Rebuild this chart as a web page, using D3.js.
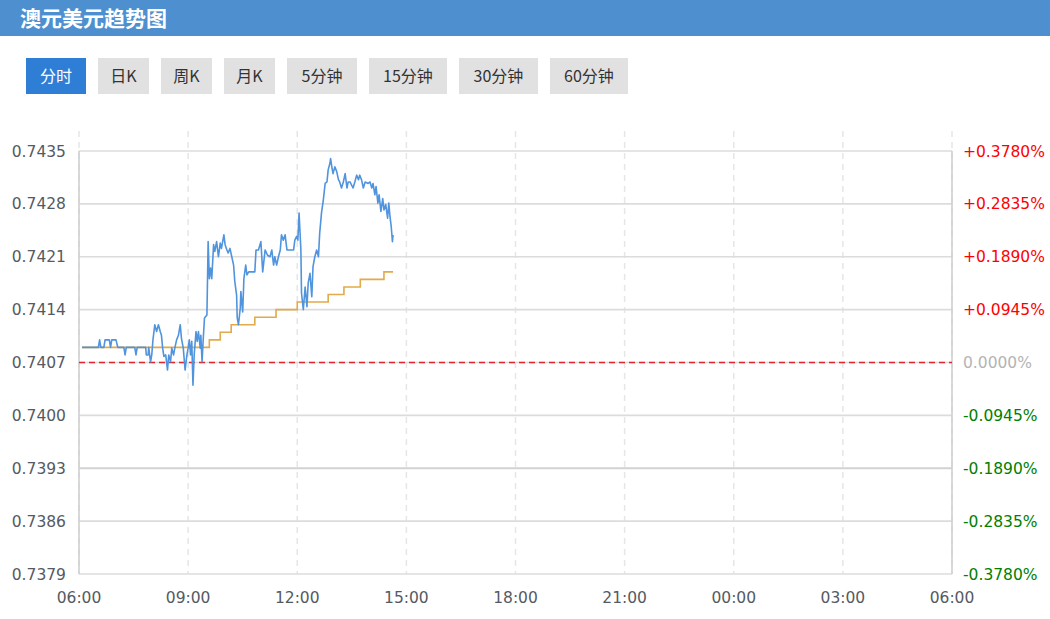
<!DOCTYPE html>
<html><head><meta charset="utf-8">
<script src="https://cdn.jsdelivr.net/npm/d3@7/dist/d3.min.js"></script>
<style>body{margin:0;background:#fff;}svg{display:block;}</style>
</head><body>
<svg id="c" width="1050" height="619"></svg>
<script>
// ---------- data ----------
const title = "澳元美元趋势图";
const tabs = ["分时","日K","周K","月K","5分钟","15分钟","30分钟","60分钟"];
const basePrice = 0.74071;
const pctTicks = [0.378, 0.2835, 0.189, 0.0945, 0, -0.0945, -0.189, -0.2835, -0.378];
const priceTickLabels = ["0.7435","0.7428","0.7421","0.7414","0.7407","0.7400","0.7393","0.7386","0.7379"];
const pctTickLabels = ["+0.3780%","+0.2835%","+0.1890%","+0.0945%","0.0000%","-0.0945%","-0.1890%","-0.2835%","-0.3780%"];
const timeTickLabels = ["06:00","09:00","12:00","15:00","18:00","21:00","00:00","03:00","06:00"];

const priceTimes = ["06:05","06:32","06:34","06:36","06:41","06:43","06:50","06:52","06:54","07:01","07:04",
"07:14","07:16","07:18","07:32","07:34","07:36","07:50","07:51","07:54","07:55","07:58","08:00","08:02","08:05",
"08:08","08:11","08:14","08:16","08:18","08:20","08:23","08:26","08:28","08:31","08:33","08:36","08:38","08:41",
"08:44","08:47","08:49","08:52","08:55","08:58","09:00","09:02","09:04","09:06","09:08","09:10","09:13","09:15",
"09:17","09:20","09:21","09:23","09:25","09:27","09:31","09:33","09:35","09:37","09:39","09:42","09:44","09:47",
"09:50","09:53","09:55","09:59","10:01","10:04","10:06","10:09","10:12","10:15","10:17","10:20","10:21","10:23",
"10:26","10:27","10:30","10:32","10:35","10:37","10:40","10:50","10:52","10:56","11:00","11:03","11:07","11:11",
"11:15","11:18","11:21","11:23","11:26","11:29","11:32","11:34","11:37","11:40","11:43","11:54","11:56","11:59",
"12:01","12:03","12:06","12:07","12:10","12:13","12:16","12:18","12:21","12:24","12:26","12:29","12:32","12:35",
"12:37","12:40","12:43","12:46","12:49","12:51","12:54","12:55","12:57","12:59","13:02","13:05","13:08","13:10",
"13:13","13:16","13:19","13:22","13:24","13:27","13:32","13:35","13:38","13:41","13:43","13:46","13:49","13:52",
"13:57","14:00","14:03","14:05","14:08","14:10","14:13","14:15","14:18","14:21","14:23","14:26","14:29","14:31",
"14:33","14:35","14:37","14:38"];
const prices = [0.74091,0.74091,0.74101,0.74091,0.74091,0.74101,0.74101,0.74091,0.74101,0.74101,0.74091,
0.74091,0.74081,0.74091,0.74091,0.74081,0.74091,0.74091,0.74081,0.74081,0.74091,0.74072,0.74081,0.74101,0.74121,
0.74112,0.74121,0.74112,0.74107,0.74090,0.74079,0.74081,0.74061,0.74081,0.74072,0.74090,0.74081,0.74090,0.74101,
0.74107,0.74121,0.74103,0.74090,0.74061,0.74081,0.74090,0.74101,0.74081,0.74099,0.74041,0.74081,0.74112,0.74099,
0.74112,0.74090,0.74107,0.74072,0.74103,0.74130,0.74134,0.74231,0.74182,0.74196,0.74182,0.74227,0.74218,0.74231,
0.74211,0.74229,0.74222,0.74240,0.74227,0.74220,0.74216,0.74222,0.74211,0.74200,0.74178,0.74160,0.74130,0.74121,
0.74143,0.74165,0.74138,0.74182,0.74200,0.74187,0.74191,0.74191,0.74220,0.74220,0.74231,0.74191,0.74220,0.74213,
0.74211,0.74220,0.74200,0.74211,0.74200,0.74211,0.74220,0.74240,0.74233,0.74240,0.74220,0.74220,0.74233,0.74238,
0.74233,0.74269,0.74220,0.74163,0.74141,0.74171,0.74145,0.74176,0.74189,0.74158,0.74198,0.74211,0.74220,0.74211,
0.74242,0.74269,0.74286,0.74308,0.74310,0.74326,0.74335,0.74341,0.74330,0.74321,0.74330,0.74324,0.74313,0.74310,
0.74302,0.74310,0.74321,0.74302,0.74310,0.74310,0.74302,0.74310,0.74319,0.74313,0.74319,0.74313,0.74302,0.74310,
0.74308,0.74310,0.74302,0.74308,0.74293,0.74304,0.74282,0.74293,0.74271,0.74288,0.74273,0.74280,0.74262,0.74282,
0.74264,0.74251,0.74231,0.74240];

const avgTimes = ["06:05","09:35","09:53","10:11","10:50","11:25","12:00","12:51","13:17","13:44","14:23","14:38"];
const avgPrices = [0.74091,0.74101,0.74111,0.74121,0.74131,0.74141,0.74151,0.74161,0.74171,0.74181,0.74191,0.74191];

// ---------- layout ----------
const W = 1050, H = 619;
const plot = {left: 79, right: 952, top: 151, bottom: 574};
const tabLayout = {x0: 26, y: 58, h: 36, gap: 12, widths: [60,51,51,51,70,78,79,78]};

const svg = d3.select("#c");
const toMin = t => { const [h, m] = t.split(":").map(Number); let v = h*60 + m - 360; if (v < 0) v += 1440; return v; };

// header
svg.append("rect").attr("x",0).attr("y",0).attr("width",W).attr("height",36).attr("fill","#4e8fd0");
svg.append("text").attr("x",20).attr("y",25.5).text(title)
  .attr("font-family","'Noto Sans CJK SC',sans-serif").attr("font-weight","bold")
  .attr("font-size",21).attr("fill","#fff");

// tabs
let tx = tabLayout.x0;
tabs.forEach((t, i) => {
  const w = tabLayout.widths[i];
  const g = svg.append("g");
  g.append("rect").attr("x",tx).attr("y",tabLayout.y).attr("width",w).attr("height",tabLayout.h)
    .attr("fill", i === 0 ? "#2f7ed6" : "#e1e1e1");
  g.append("text").attr("x",tx + w/2).attr("y",tabLayout.y + tabLayout.h/2 + 6)
    .attr("text-anchor","middle").text(t)
    .attr("font-family","'Noto Sans CJK SC',sans-serif").attr("font-size",16)
    .attr("fill", i === 0 ? "#fff" : "#333");
  tx += w + tabLayout.gap;
});

// scales
const x = d3.scaleLinear().domain([0, 1440]).range([plot.left, plot.right]);
const pMin = basePrice * (1 + pctTicks[pctTicks.length-1]/100);
const pMax = basePrice * (1 + pctTicks[0]/100);
const y = d3.scaleLinear().domain([pMin, pMax]).range([plot.bottom, plot.top]);
const tickPrices = pctTicks.map(p => basePrice * (1 + p/100));
const tickMins = timeTickLabels.map((d, i) => i * 180);

// vertical dashed grid
svg.append("g").selectAll("line").data(tickMins).join("line")
  .attr("x1", d => x(d)).attr("x2", d => x(d))
  .attr("y1", 131).attr("y2", plot.bottom)
  .attr("stroke","#e6e6e6").attr("stroke-width",1.5).attr("stroke-dasharray","6,5");

// horizontal grid
svg.append("g").selectAll("line").data(tickPrices).join("line")
  .attr("x1", plot.left).attr("x2", plot.right)
  .attr("y1", d => y(d)).attr("y2", d => y(d))
  .attr("stroke", (d,i) => i === 6 ? "#d2d2d2" : "#dcdcdc").attr("stroke-width", (d,i)=> i===6 ? 2.2 : 1.6);

// plot borders left/right
svg.append("line").attr("x1",plot.left).attr("x2",plot.left).attr("y1",plot.top).attr("y2",plot.bottom)
  .attr("stroke","#d0d0d0").attr("stroke-width",1.6);
svg.append("line").attr("x1",plot.right).attr("x2",plot.right).attr("y1",plot.top).attr("y2",plot.bottom)
  .attr("stroke","#d0d0d0").attr("stroke-width",1.6);

// zero line red dashed
svg.append("line").attr("x1",plot.left).attr("x2",plot.right)
  .attr("y1",y(basePrice)).attr("y2",y(basePrice))
  .attr("stroke","#e3262e").attr("stroke-width",1.4).attr("stroke-dasharray","6,4");

// left labels
svg.append("g").selectAll("text").data(tickPrices).join("text")
  .attr("x", 66).attr("y", d => y(d)).attr("dy","0.36em").attr("text-anchor","end")
  .text((d,i) => priceTickLabels[i])
  .attr("font-family","'DejaVu Sans',sans-serif").attr("font-size",15.5).attr("fill","#555a62");

// right labels
svg.append("g").selectAll("text").data(tickPrices).join("text")
  .attr("x", 963).attr("y", d => y(d)).attr("dy","0.36em")
  .text((d,i) => pctTickLabels[i])
  .attr("font-family","'DejaVu Sans',sans-serif").attr("font-size",15.5)
  .attr("fill", (d,i) => pctTicks[i] > 0 ? "#ff0000" : (pctTicks[i] < 0 ? "#008000" : "#b4b4b4"));

// bottom labels
svg.append("g").selectAll("text").data(tickMins).join("text")
  .attr("x", d => x(d)).attr("y", 603).attr("text-anchor","middle")
  .text((d,i) => timeTickLabels[i])
  .attr("font-family","'DejaVu Sans',sans-serif").attr("font-size",15.5).attr("fill","#555a62");

// lines
const avgData = avgTimes.map((t,i) => ({m: toMin(t), v: avgPrices[i]}));
svg.append("path").datum(avgData)
  .attr("d", d3.line().x(d => x(d.m)).y(d => y(d.v)).curve(d3.curveStepAfter))
  .attr("fill","none").attr("stroke","#e2aa4a").attr("stroke-width",1.6);

const priceData = priceTimes.map((t,i) => ({m: toMin(t), v: prices[i]}));
svg.append("path").datum(priceData)
  .attr("d", d3.line().x(d => x(d.m)).y(d => y(d.v)))
  .attr("fill","none").attr("stroke","#5094de").attr("stroke-width",1.6).attr("stroke-linejoin","round");
</script>
</body></html>
